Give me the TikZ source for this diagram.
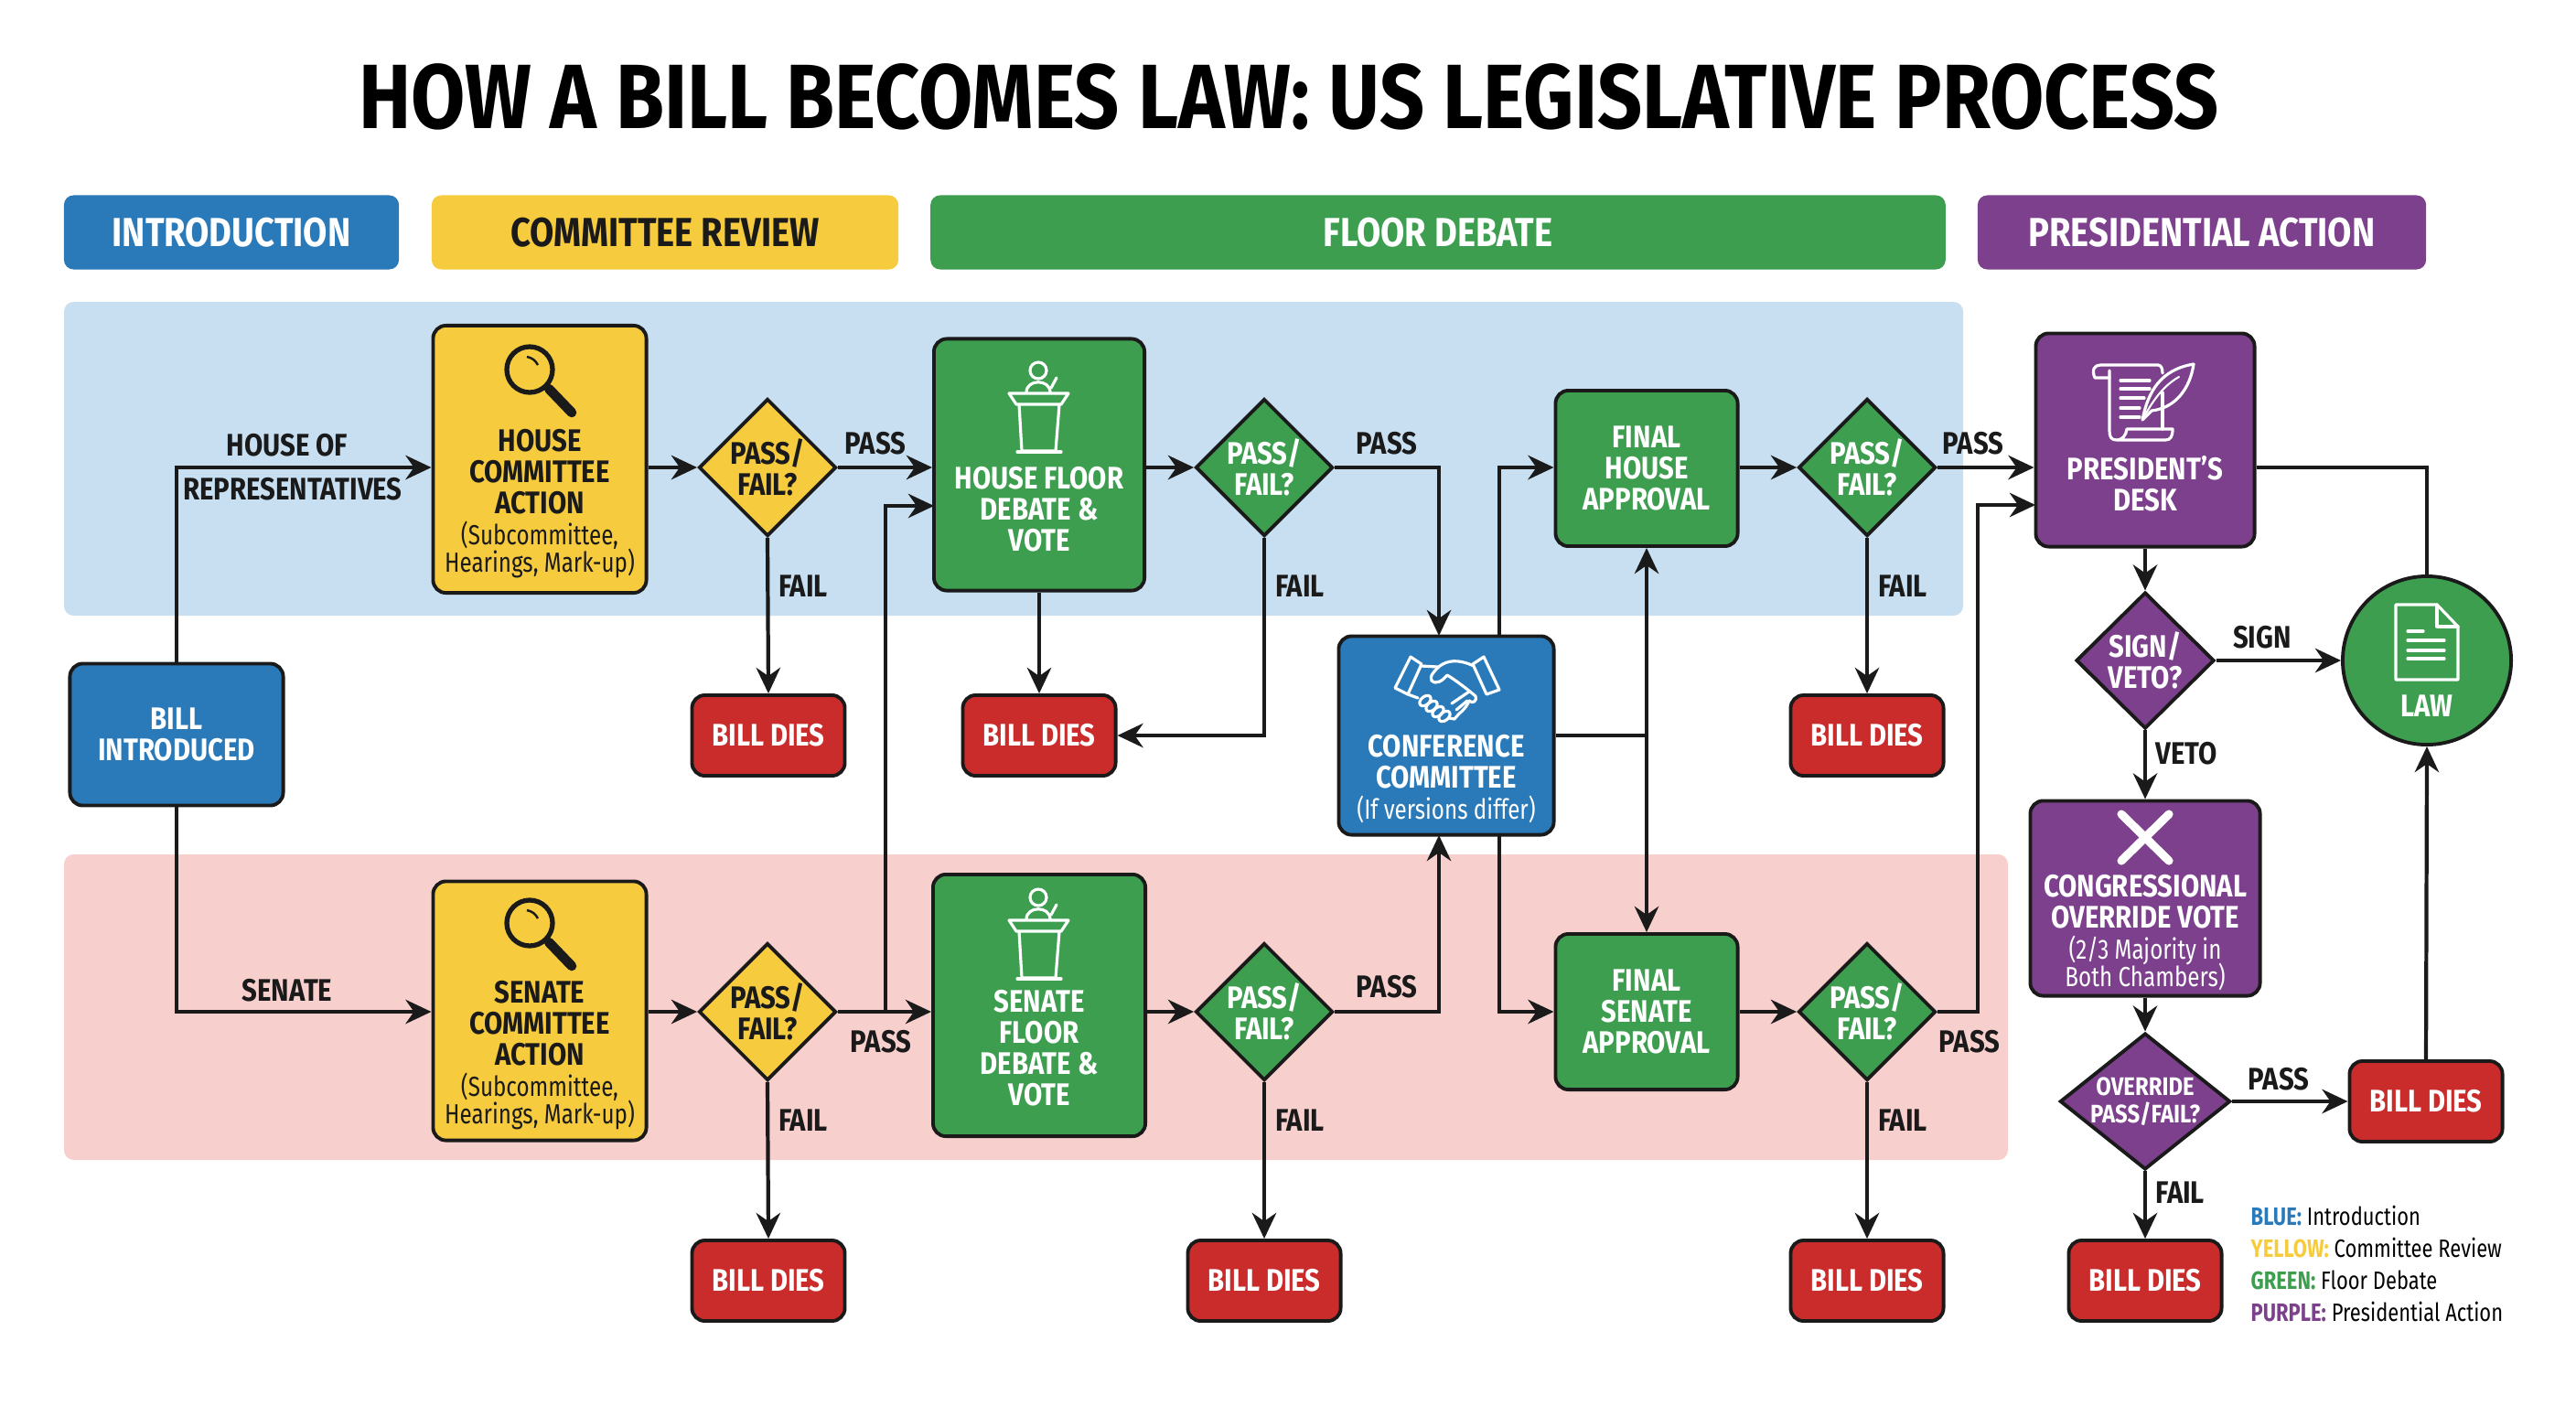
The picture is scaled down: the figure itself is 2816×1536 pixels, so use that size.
\documentclass[tikz,border=0pt]{standalone}
\usepackage{fontspec}
\setmainfont{Fira Sans}[FakeStretch=0.86]
\newfontfamily\subfam{Fira Sans}[FakeStretch=0.8]
\usetikzlibrary{arrows.meta,shapes.geometric}
\definecolor{edge}{HTML}{1A1A1A}
\definecolor{lawblue}{HTML}{2A7ABA}
\definecolor{lawyellow}{HTML}{F6CB3E}
\definecolor{lawgreen}{HTML}{3E9E50}
\definecolor{lawpurple}{HTML}{7C408C}
\definecolor{lawred}{HTML}{C92C2B}
\definecolor{laneblue}{HTML}{C7DFF0}
\definecolor{lanered}{HTML}{F7CFCD}
\newcommand{\boxfont}{\fontsize{9.7}{9.7}\selectfont\bfseries}
\newcommand{\subf}{\subfam\fontsize{8.6}{8.9}\selectfont\mdseries}
\tikzset{
  sz/.style 2 args={minimum width=#1cm, minimum height=#2cm},
  box/.style={draw=edge, line width=1.1pt, rounded corners=4pt, align=center, inner sep=0pt, text=white, font=\boxfont},
  dec/.style={box, shape=diamond, rounded corners=0pt, aspect=1},
  dies/.style={box, fill=lawred, sz={1.67}{0.88}},
  head/.style={rounded corners=3pt, inner sep=0pt, minimum height=0.81cm, text=white, font=\fontsize{12.6}{14}\selectfont\bfseries},
  lane/.style={rounded corners=3pt},
  lbl/.style={text=edge, inner sep=0pt, font=\boxfont},
  arr/.style={line width=1.2pt, edge, -{Stealth[length=8pt,width=7.5pt]}},
  darr/.style={line width=1.2pt, edge, {Stealth[length=8pt,width=7.5pt]}-{Stealth[length=8pt,width=7.5pt]}},
  wire/.style={line width=1.2pt, edge},
  ico/.style={draw=white, line width=0.9pt, line join=round, line cap=round},
}
\begin{document}
\begin{tikzpicture}[x=0.01cm, y=-0.01cm]
\useasboundingbox (0,0) rectangle (2816,1536);
% title and phase bars
\node[text=black, font=\fontsize{28.4}{30}\selectfont\bfseries] (title) at (1409,106) {HOW A BILL BECOMES LAW: US LEGISLATIVE PROCESS};
\node[head, fill=lawblue, minimum width=3.66cm] (hintro) at (253,254) {INTRODUCTION};
\node[head, fill=lawyellow, minimum width=5.1cm, text=edge] (hcomm) at (727,254) {COMMITTEE REVIEW};
\node[head, fill=lawgreen, minimum width=11.09cm] (hfl) at (1572,254) {FLOOR DEBATE};
\node[head, fill=lawpurple, minimum width=4.9cm] (hpres) at (2407,254) {PRESIDENTIAL ACTION};
% chamber lanes
\fill[lane, laneblue] (70,330) rectangle (2146,673);
\fill[lane, lanered] (70,934) rectangle (2195,1268);
% steps
\node[box, fill=lawblue, sz={2.33}{1.55}] (intro) at (193,803) {BILL\\INTRODUCED};
\node[box, fill=lawyellow, text=edge, sz={2.33}{2.92}] (hcom) at (590,502) {\rule{0pt}{0.87cm}\\HOUSE\\COMMITTEE\\ACTION\\\subf (Subcommittee,\\[-1.2pt]\subf Hearings, Mark-up)};
\node[box, fill=lawyellow, text=edge, sz={2.33}{2.83}] (scom) at (590,1105) {\rule{0pt}{0.87cm}\\SENATE\\COMMITTEE\\ACTION\\\subf (Subcommittee,\\[-1.2pt]\subf Hearings, Mark-up)};
\node[box, fill=lawgreen, sz={2.3}{2.75}] (hfloor) at (1136,508) {\rule{0pt}{0.88cm}\\HOUSE FLOOR\\DEBATE \&\\VOTE};
\node[box, fill=lawgreen, sz={2.32}{2.86}] (sfloor) at (1136,1099) {\rule{0pt}{0.84cm}\\SENATE\\FLOOR\\DEBATE \&\\VOTE};
\node[box, fill=lawgreen, sz={1.99}{1.7}] (fhouse) at (1800,512) {FINAL\\HOUSE\\APPROVAL};
\node[box, fill=lawgreen, sz={1.99}{1.7}] (fsen) at (1800,1106) {FINAL\\SENATE\\APPROVAL};
\node[box, fill=lawblue, sz={2.35}{2.17}] (conf) at (1581,804) {\rule{0pt}{0.85cm}\\CONFERENCE\\COMMITTEE\\\subf (If versions differ)};
\node[box, fill=lawpurple, sz={2.39}{2.33}] (pres) at (2345,481) {\rule{0pt}{0.88cm}\\PRESIDENT'S\\DESK};
\node[box, fill=lawpurple, sz={2.51}{2.13}] (over) at (2345,982) {\rule{0pt}{0.65cm}\\CONGRESSIONAL\\OVERRIDE VOTE\\\subf (2/3 Majority in\\[-1.2pt]\subf Both Chambers)};
\node[box, fill=lawgreen, shape=circle, minimum size=1.84cm] (lawc) at (2653,722) {\rule{0pt}{0.88cm}\\LAW};
% decisions
\node[dec, fill=lawyellow, text=edge, sz={1.5}{1.5}] (hdec) at (839,511) {PASS/\\FAIL?};
\node[dec, fill=lawyellow, text=edge, sz={1.5}{1.5}] (sdec) at (839,1106) {PASS/\\FAIL?};
\node[dec, fill=lawgreen, sz={1.5}{1.5}] (hdec2) at (1382,511) {PASS/\\FAIL?};
\node[dec, fill=lawgreen, sz={1.5}{1.5}] (sdec2) at (1382,1106) {PASS/\\FAIL?};
\node[dec, fill=lawgreen, sz={1.5}{1.5}] (hdec3) at (2041,511) {PASS/\\FAIL?};
\node[dec, fill=lawgreen, sz={1.5}{1.5}] (sdec3) at (2041,1106) {PASS/\\FAIL?};
\node[dec, fill=lawpurple, sz={1.51}{1.49}] (signd) at (2345,722) {SIGN/\\VETO?};
\node[dec, fill=lawpurple, sz={1.84}{1.47}, aspect=1.25, font=\fontsize{7.9}{8.6}\selectfont\bfseries] (odec) at (2345,1204) {OVERRIDE\\PASS/FAIL?};
% dead ends
\foreach \n/\x/\y in {hdie1/840/804, hdie2/1136/804, hdie3/2041/804, sdie1/840/1400, sdie2/1382/1400, sdie3/2041/1400, odie2/2345/1400, odie/2652/1204}
  \node[dies] (\n) at (\x,\y) {BILL DIES};
% free ends of connectors
\coordinate (fork) at (968,1106);
\coordinate (hfin) at (1021,553);
\coordinate (confa) at (1573,695);
\coordinate (confb) at (1639,695);
\coordinate (confc) at (1573,913);
\coordinate (confd) at (1639,913);
\coordinate (pbend) at (2162,1106);
\coordinate (presin) at (2225,552);
% connectors
\draw[arr] (intro.north) |- (hcom.west |- hdec.west);
\draw[arr] (intro.south) |- (scom.west |- sdec.west);
\draw[arr] (hcom.east |- hdec.west) -- (hdec.west);
\draw[arr] (scom.east |- sdec.west) -- (sdec.west);
\draw[arr] (hdec.east) -- (hfloor.west |- hdec.east);
\draw[arr] (sdec.east) -- (sfloor.west |- sdec.east);
\draw[arr] (hdec.south) -- (hdie1.north);
\draw[arr] (sdec.south) -- (sdie1.north);
\draw[arr] (fork) |- (hfin);
\draw[arr] (hfloor.south) -- (hdie2.north);
\draw[arr] (hfloor.east |- hdec2.west) -- (hdec2.west);
\draw[arr] (sfloor.east |- sdec2.west) -- (sdec2.west);
\draw[arr] (hdec2.south) |- (hdie2.east);
\draw[arr] (sdec2.south) -- (sdie2.north);
\draw[arr] (hdec2.east) -| (confa);
\draw[arr] (sdec2.east) -| (confc);
\draw[arr] (confb) |- (fhouse.west |- hdec3.west);
\draw[arr] (confd) |- (fsen.west);
\draw[wire] (conf.east) -- (fhouse.south |- conf.east);
\draw[darr] (fhouse.south) -- (fsen.north);
\draw[arr] (fhouse.east |- hdec3.west) -- (hdec3.west);
\draw[arr] (fsen.east) -- (sdec3.west);
\draw[arr] (hdec3.south) -- (hdie3.north);
\draw[arr] (sdec3.south) -- (sdie3.north);
\draw[arr] (hdec3.east) -- (pres.west |- hdec3.east);
\draw[arr] (sdec3.east) -- (pbend) |- (presin);
\draw[arr] (pres.south) -- (signd.north);
\draw[wire] (pres.east |- hdec3.east) -| (lawc.north);
\draw[arr] (signd.east) -- (lawc.west);
\draw[arr] (signd.south) -- (over.north);
\draw[arr] (over.south) -- (odec.north);
\draw[arr] (odec.east) -- (odie.west);
\draw[arr] (odec.south) -- (odie2.north);
\draw[arr] (odie.north) -- (lawc.south);
% connector labels
\foreach \n/\x/\y/\t in {lhouse/314/487/HOUSE OF, lrep/320/535/REPRESENTATIVES, lsen/314/1083/SENATE,
    lpa/957/485/PASS, lpb/1516/485/PASS, lpc/2157/485/PASS, lpd/963/1139/PASS, lpe/1516/1079/PASS, lpf/2153/1139/PASS,
    lfa/878/641/FAIL, lfb/1421/641/FAIL, lfc/2080/641/FAIL, lfd/878/1225/FAIL, lfe/1421/1225/FAIL, lff/2080/1225/FAIL,
    lsign/2473/697/SIGN, lveto/2390/824/VETO, lpg/2491/1180/PASS, lfg/2383/1304/FAIL}
  \node[lbl] (\n) at (\x,\y) {\t};
% magnifier icons
\foreach \y in {404,1009} {
  \draw[edge, line width=1.5pt] (579,\y) circle (25);
  \draw[edge, line width=3pt, line cap=round] (600,\y+21) -- (625,\y+47);
  \draw[edge, line width=0.7pt] (576,\y-14) to[bend left=25] (588,\y-5);
}
% lectern icons
\foreach \y in {405,981} {
  \draw[ico] (1135,\y) circle (9);
  \draw[ico] (1122,\y+24) .. controls (1122,\y+9) and (1148,\y+9) .. (1148,\y+24);
  \draw[ico] (1149,\y+19) -- (1155,\y+8);
  \draw[ico] (1103,\y+25) -- (1168,\y+25) -- (1160,\y+37) -- (1111,\y+37) -- cycle;
  \draw[ico] (1114,\y+37) -- (1117,\y+88) -- (1154,\y+88) -- (1158,\y+37);
  \draw[ico] (1112,\y+89) -- (1160,\y+89);
}
% handshake icon
\begin{scope}[shift={(1582,752)}]
  \draw[ico] (-40,-34) -- (-28,-26) -- (-43,7) -- (-57,0) -- cycle;
  \draw[ico] (40,-34) -- (28,-26) -- (43,7) -- (57,2) -- cycle;
  \draw[ico] (-29,-24) -- (-10,-23);
  \draw[ico] (29,-24) .. controls (12,-32) and (0,-30) .. (-8,-24) .. controls (-14,-19) and (-20,-12) .. (-17,-8) .. controls (-12,-3) and (-5,-8) .. (0,-14) .. controls (10,-8) and (24,3) .. (31,9) .. controls (33,14) and (28,18) .. (24,14);
  \draw[ico] (24,14) .. controls (20,24) and (14,26) .. (8,34) -- (2,33);
  \draw[ico] (-43,7) -- (-32,11);
  \foreach \a/\b in {-24/14, -17/20, -10/26, -3/31} \draw[ico, rotate around={40:(\a,\b)}] (\a,\b) ellipse (7 and 4.5);
  \draw[ico] (5,17) -- (24,4);
  \draw[ico] (10,24) -- (22,14);
\end{scope}
% scroll and quill icon
\begin{scope}[shift={(2344,440)}]
  \draw[ico] (-38,-27) -- (-54,-27) .. controls (-58,-36) and (-54,-41) .. (-48,-41) -- (15,-41) .. controls (18,-41) and (20,-38) .. (20,-32);
  \draw[ico] (-38,-35) -- (-38,31) .. controls (-38,38) and (-36,41) .. (-30,41) -- (23,41) .. controls (29,41) and (31,37) .. (31,29) -- (-19,29) .. controls (-20,36) and (-24,41) .. (-30,41);
  \draw[ico] (20,-11) -- (20,29);
  \foreach \y/\e in {-24/6, -15/6, -5/0, 6/-5, 16/-5} \draw[ico] (-26,\y) -- (\e,\y);
  \draw[ico] (-2,19) .. controls (4,-12) and (18,-36) .. (54,-42) .. controls (50,-15) and (34,6) .. (8,9) -- cycle;
  \draw[ico, line width=0.6pt] (-2,19) .. controls (8,0) and (20,-18) .. (38,-28);
\end{scope}
% document icon
\begin{scope}[shift={(2653,702)}]
  \draw[ico] (-34,-41) -- (11,-41) -- (34,-17) -- (34,41) -- (-34,41) -- cycle;
  \draw[ico] (11,-41) -- (11,-17) -- (34,-17);
  \foreach \y/\e in {-12/-4, -2/19, 9/19, 18/19} \draw[ico] (-21,\y) -- (\e,\y);
\end{scope}
% veto cross
\draw[white, line width=2.6pt, line cap=round] (2319,890) -- (2371,941);
\draw[white, line width=2.6pt, line cap=round] (2371,890) -- (2319,941);
% colour key
\node[inner sep=0pt, align=left, anchor=north west, font=\subfam\fontsize{7.8}{10}\selectfont] (key) at (2460,1317) {\textcolor{lawblue}{\bfseries BLUE:} Introduction\\\textcolor{lawyellow}{\bfseries YELLOW:} Committee Review\\\textcolor{lawgreen}{\bfseries GREEN:} Floor Debate\\\textcolor{lawpurple}{\bfseries PURPLE:} Presidential Action};
\end{tikzpicture}
\end{document}
